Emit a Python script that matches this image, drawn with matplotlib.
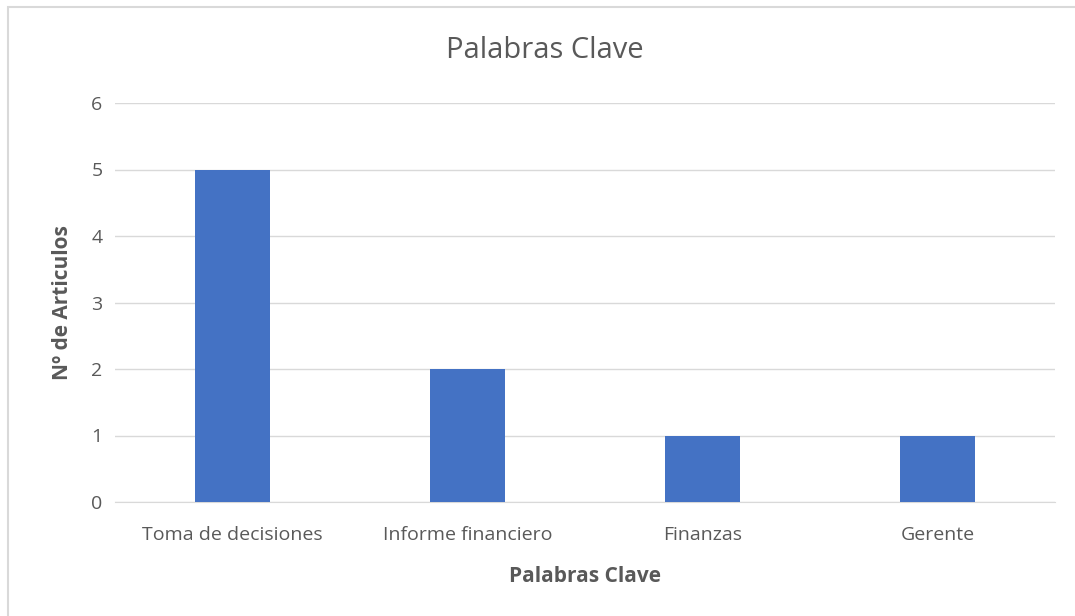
import matplotlib.pyplot as plt
from matplotlib.patches import Rectangle

categories = ['Toma de decisiones', 'Informe financiero', 'Finanzas', 'Gerente']
values = [5, 2, 1, 1]
yticks = [0, 1, 2, 3, 4, 5, 6]

plt.rcParams['font.family'] = ['Open Sans', 'DejaVu Sans']
text_color = '#595959'
grid_color = '#D9D9D9'

fig = plt.figure(figsize=(10.75, 6.16), dpi=100)
ax = fig.add_axes([115 / 1075, 1 - 502 / 616, 940 / 1075, 399 / 616])

x = list(range(len(categories)))
ax.bar(x, values, width=0.32, color='#4472C4', zorder=3)

ax.set_xlim(-0.5, len(categories) - 0.5)
ax.set_ylim(0, 6)
ax.set_yticks(yticks)
ax.set_xticks(x)
ax.set_xticklabels(categories)
ax.yaxis.grid(True, color=grid_color, linewidth=1, zorder=0)

for s in ['top', 'right', 'left']:
    ax.spines[s].set_visible(False)
ax.spines['bottom'].set_color(grid_color)
ax.tick_params(axis='both', length=0, labelsize=14, colors=text_color)
ax.tick_params(axis='x', pad=17)
ax.tick_params(axis='y', pad=9)

ax.set_xlabel('Palabras Clave', fontsize=15, fontweight='bold', color=text_color, labelpad=16)
ax.set_ylabel('Nº de Articulos', fontsize=15, fontweight='bold', color=text_color)
ax.yaxis.set_label_coords((73 - 115) / 940, 0.5)
fig.text(545 / 1075, 1 - 51 / 616, 'Palabras Clave', ha='center', va='center',
         fontsize=21, color=text_color)

fig.patches.append(Rectangle((8 / 1075, -0.1), 1.2, 1 - 7 / 616 + 0.1,
                             transform=fig.transFigure, fill=False,
                             edgecolor=grid_color, linewidth=1.5))

fig.savefig('out.png', dpi=100)
